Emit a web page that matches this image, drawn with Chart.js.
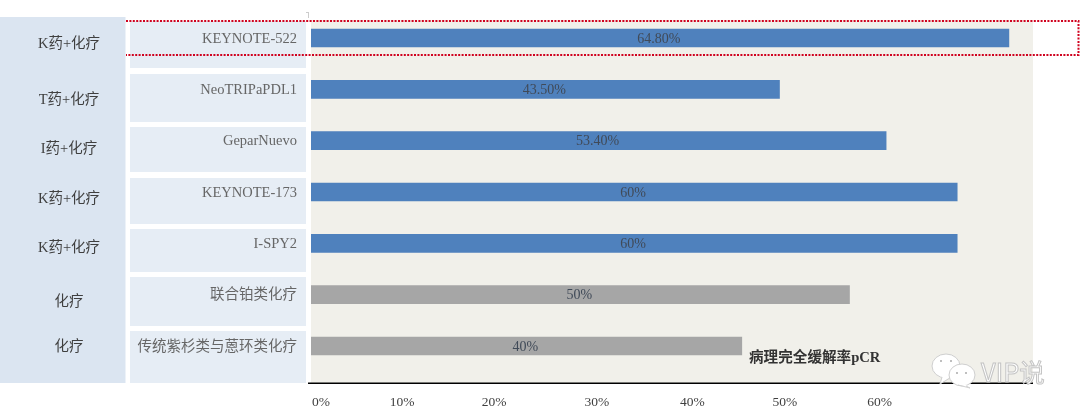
<!DOCTYPE html>
<html><head><meta charset="utf-8">
<style>html,body{margin:0;padding:0;background:#fff;overflow:hidden}canvas{display:block}</style>
<script src="https://cdn.jsdelivr.net/npm/chart.js@4"></script>
</head><body><canvas id="c" width="1080" height="419" style="width:1080px;height:419px"></canvas>
<script>
const studies = ['KEYNOTE-522','NeoTRIPaPDL1','GeparNuevo','KEYNOTE-173','I-SPY2','联合铂类化疗','传统紫杉类与蒽环类化疗'];
const regimens = ['K药+化疗','T药+化疗','I药+化疗','K药+化疗','K药+化疗','化疗','化疗'];
const pcrValues = [64.8,43.5,53.4,60,60,50,40];
const pcrLabels = ['64.80%','43.50%','53.40%','60%','60%','50%','40%'];
const tickLabels = ['0%','10%','20%','30%','40%','50%','60%'];
// The reference's tick labels do not line up with its bars; these are where they sit on the value scale.
const tickAnchors = [0.93,8.45,17.0,26.55,35.4,44.0,52.8];
const annotation = '病理完全缓解率pCR';
const watermark = 'VIP说';

const SERIF = '"Liberation Serif","Noto Sans CJK SC",serif';
const regimenY = [44,100,149,199,248,302,347];
const panels = [[21,68],[74,122],[127,172],[178,224],[229,272],[277,326],[331,383]];

function bubble(ctx,cx,cy,rx,ry,tailX,tailY){
  ctx.beginPath();ctx.ellipse(cx,cy,rx,ry,0,0,Math.PI*2);ctx.fillStyle='#fff';ctx.strokeStyle='#cfcfcf';ctx.lineWidth=1;
  ctx.fill();ctx.stroke();
  ctx.beginPath();ctx.moveTo(cx-4,cy+ry-2);ctx.lineTo(tailX,tailY);ctx.lineTo(cx+4,cy+ry-1);ctx.closePath();ctx.fill();
  ctx.beginPath();ctx.moveTo(cx-4,cy+ry-1);ctx.lineTo(tailX,tailY);ctx.lineTo(cx+4,cy+ry);ctx.stroke();
}

const deco = {
  id:'deco',
  beforeDraw(chart){
    const {ctx}=chart;
    ctx.save();
    ctx.fillStyle='#dbe5f1';ctx.fillRect(0,17,125.5,366);
    ctx.fillStyle='#e6edf5';
    panels.forEach(p=>ctx.fillRect(130,p[0],176,p[1]-p[0]));
    ctx.fillStyle='#f1f0ea';ctx.fillRect(311,20,722,363);
    ctx.fillStyle='#ccc';ctx.fillRect(306,12,2,1);ctx.fillRect(308,12,1,6);
    ctx.font='14.5px '+SERIF;ctx.fillStyle='#3f3f3f';ctx.textAlign='center';ctx.textBaseline='middle';
    regimens.forEach((r,i)=>ctx.fillText(r,69,regimenY[i]));
    ctx.restore();
  },
  afterDatasetsDraw(chart){
    const {ctx}=chart;
    const meta=chart.getDatasetMeta(0);
    ctx.save();
    ctx.font='14px '+SERIF;ctx.fillStyle='#404a58';ctx.textAlign='center';ctx.textBaseline='middle';
    meta.data.forEach((b,i)=>{
      ctx.fillText(pcrLabels[i],(b.x+b.base)/2-1,b.y+1);
    });
    ctx.font='bold 14.6px '+SERIF;ctx.fillStyle='#333';ctx.textAlign='left';
    ctx.fillText(annotation,749,358);
    ctx.strokeStyle='#000';ctx.lineWidth=1.4;
    ctx.beginPath();ctx.moveTo(308,383.2);ctx.lineTo(1033,383.2);ctx.stroke();
    // watermark
    bubble(ctx,946,366,14,12,940,384);
    bubble(ctx,962,375,13,11,970,388);
    ctx.fillStyle='#aaa';
    [[941,361],[951,361],[957,373],[966,373]].forEach(d=>{ctx.beginPath();ctx.arc(d[0],d[1],1,0,Math.PI*2);ctx.fill();});
    ctx.font='25.5px "Noto Sans CJK SC",sans-serif';ctx.textBaseline='middle';ctx.textAlign='left';
    ctx.fillStyle='#fff';ctx.strokeStyle='#c4c4c4';ctx.lineWidth=1;
    ctx.fillText(watermark,981,372);ctx.strokeText(watermark,981,372);
    // highlight box
    ctx.strokeStyle='#d0021f';ctx.lineWidth=2;ctx.setLineDash([2,1.4]);
    ctx.beginPath();ctx.moveTo(126,21);ctx.lineTo(1078.5,21);ctx.lineTo(1078.5,55);ctx.lineTo(126,55);ctx.stroke();
    ctx.restore();
  }
};

new Chart(document.getElementById('c'),{
  type:'bar',
  data:{labels:studies,datasets:[{
    data:pcrValues,
    backgroundColor:['#4f81bd','#4f81bd','#4f81bd','#4f81bd','#4f81bd','#a6a6a6','#a6a6a6'],
    barThickness:18,borderWidth:0
  }]},
  options:{
    indexAxis:'y',responsive:false,animation:false,devicePixelRatio:1,
    layout:{padding:{top:12.33,right:47,left:0,bottom:0}},
    plugins:{legend:{display:false},tooltip:{enabled:false},title:{display:false}},
    scales:{
      x:{
        type:'linear',min:0,max:722/10.77,
        grid:{display:false,drawTicks:false},border:{display:false},
        afterBuildTicks(s){s.ticks=tickAnchors.map(v=>({value:v}));},
        afterFit(s){s.height=419-371.67;s.paddingLeft=0;s.paddingRight=0;},
        ticks:{autoSkip:false,maxRotation:0,padding:23,color:'#3f3f3f',
          font:{family:SERIF,size:13.5},
          callback:(v,i)=>tickLabels[i]}
      },
      y:{
        type:'category',
        grid:{display:false,drawTicks:false},border:{display:false},
        afterFit(s){s.width=311;s.paddingTop=0;s.paddingBottom=0;},
        ticks:{autoSkip:false,padding:14,labelOffset:1,color:'#666',font:{family:SERIF,size:14.5}}
      }
    }
  },
  plugins:[deco]
});
</script></body></html>
